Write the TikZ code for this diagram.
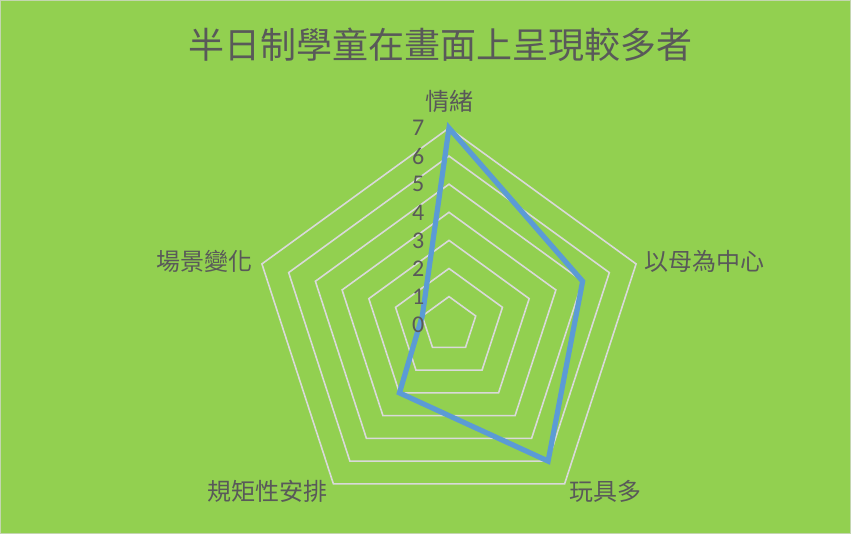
\documentclass[tikz,border=0pt]{standalone}
\usepackage{fontspec}
\usetikzlibrary{calc}
\newfontfamily\cjk{Noto Sans CJK TC}
\newfontfamily\numfont{Carlito}
\definecolor{bggreen}{RGB}{146,208,80}
\definecolor{gridgray}{RGB}{217,217,217}
\definecolor{txtgray}{RGB}{89,89,89}
\definecolor{serblue}{RGB}{91,155,213}
\begin{document}
\begin{tikzpicture}[x=1pt,y=-1pt,
  gridline/.style={draw=gridgray,line width=1.6pt,line join=miter},
  serline/.style={draw=serblue,line width=5.2pt,line join=miter},
  catlabel/.style={font=\cjk\fontsize{24}{24}\selectfont,text=txtgray,inner sep=0pt},
  ticklabel/.style={font=\numfont\fontsize{24}{24}\selectfont,text=txtgray,inner sep=0pt,anchor=east},
  titlelabel/.style={font=\cjk\fontsize{36}{36}\selectfont,text=txtgray,inner sep=0pt}]
\useasboundingbox (0,0) rectangle (851,534);
\fill[bggreen] (0,0) rectangle (851,534);
\draw[gridgray!70!bggreen,line width=1pt] (0.5,0.5) rectangle (850.5,533.5);
% center and unit
\coordinate (C) at (449,324.7);
\def\u{28.1}
% grid pentagons
\foreach \k in {1,...,7}{
  \draw[gridline] ($(C)+(0,{-\k*\u})$) \foreach \a in {162,234,306,18}{ -- ($(C)+({cos(\a)*\k*\u},{-sin(\a)*\k*\u})$)} -- cycle;
}
% data points: 情緒 7, 以母為中心 5, 玩具多 6, 規矩性安排 3, 場景變化 1
\coordinate (p1) at ($(C)+(0,{-7*\u})$);
\coordinate (p2) at ($(C)+({cos(18)*5*\u},{-sin(18)*5*\u})$);
\coordinate (p3) at ($(C)+({cos(306)*6*\u},{-sin(306)*6*\u})$);
\coordinate (p4) at ($(C)+({cos(234)*3*\u},{-sin(234)*3*\u})$);
\coordinate (p5) at ($(C)+({cos(162)*1*\u},{-sin(162)*1*\u})$);
\draw[serline] (p1) -- (p2) -- (p3) -- (p4) -- (p5) -- cycle;
% tick labels
\foreach \k in {0,...,7}{
  \node[ticklabel] (t\k) at (424.5,{324.7-\k*\u}) {\k};
}
% category labels
\node[catlabel] (l1) at (449,101) {情緒};
\node[catlabel,anchor=west] (l2) at (644,261) {以母為中心};
\node[catlabel,anchor=north west] (l3) at (569,480) {玩具多};
\node[catlabel,anchor=north east] (l4) at (328,480) {規矩性安排};
\node[catlabel,anchor=east] (l5) at (253,261) {場景變化};
% title
\node[titlelabel] (title) at (440,45) {半日制學童在畫面上呈現較多者};
\end{tikzpicture}
\end{document}
